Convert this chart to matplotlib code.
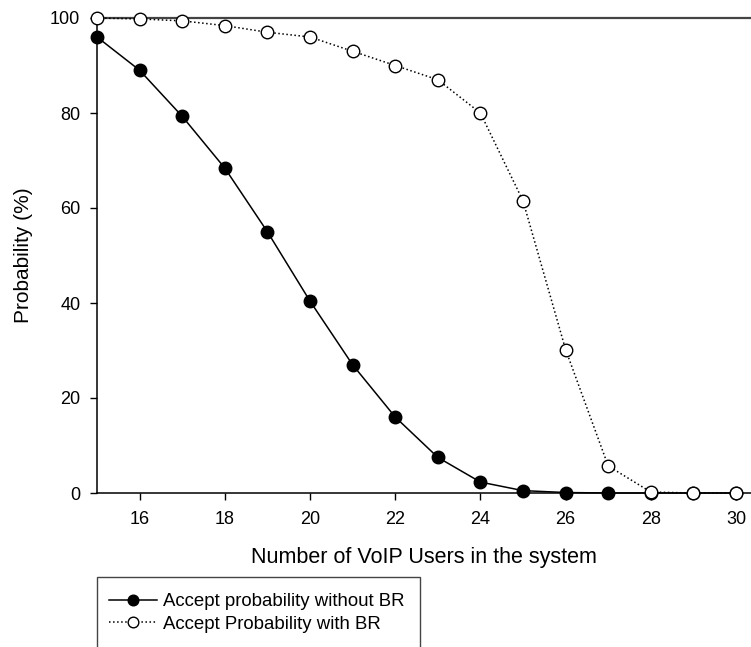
import numpy as np
import matplotlib.pyplot as plt
from matplotlib.patches import Rectangle

plt.rcParams["font.family"] = ["Liberation Sans", "DejaVu Sans"]

users = np.arange(15, 31)
p_without_br = [96.0, 89.0, 79.3, 68.4, 55.0, 40.4, 27.0, 16.0, 7.5, 2.3,
                0.5, 0.1, 0.0, 0.0, 0.0, 0.0]
p_with_br = [100.0, 99.8, 99.4, 98.4, 97.0, 96.0, 93.0, 90.0, 87.0, 80.0,
             61.5, 30.2, 5.7, 0.2, 0.0, 0.0]

fig = plt.figure(figsize=(7.51, 6.47), dpi=100)
ax = fig.add_axes([97 / 751, (647 - 493) / 647, 654 / 751, 475 / 647])

ax.plot(users, p_without_br, "-", color="black", lw=1.1, marker="o",
        ms=9, mfc="black", mec="black", clip_on=False, zorder=3,
        label="Accept probability without BR")
ax.plot(users, p_with_br, ":", color="black", lw=1.1, marker="o",
        ms=9, mfc="white", mec="black", mew=1.0, clip_on=False, zorder=4,
        label="Accept Probability with BR")

ax.set_xlim(15, 15 + 654 / 42.6)
ax.set_ylim(0, 100)
ax.set_xticks(range(16, 31, 2))
ax.set_yticks(range(0, 101, 20))
ax.tick_params(direction="out", length=5, width=1, labelsize=13)
ax.tick_params(axis="x", pad=8)
ax.tick_params(axis="y", pad=7)
ax.spines["right"].set_visible(False)
ax.spines["top"].set_color("#444444")
ax.spines["top"].set_linewidth(1.6)
for s in ("left", "bottom"):
    ax.spines[s].set_linewidth(1.1)

ax.set_xlabel("Number of VoIP Users in the system", fontsize=15.5, labelpad=14)
ax.set_ylabel("Probability (%)", fontsize=15, labelpad=12)

# legend box sits below the axes and runs off the bottom edge
fig.add_artist(Rectangle((97 / 751, -0.05), 323 / 751, (647 - 577) / 647 + 0.05,
                         transform=fig.transFigure, fill=False,
                         edgecolor="#444444", lw=1.0, clip_on=False))
fig.legend(loc="upper left", bbox_to_anchor=(109 / 751, (647 - 593) / 647),
           frameon=False, fontsize=13.4, handlelength=2.6, handletextpad=0.3,
           labelspacing=0.32, borderaxespad=0, borderpad=0, markerscale=0.85)

fig.savefig("out.png", dpi=100)
